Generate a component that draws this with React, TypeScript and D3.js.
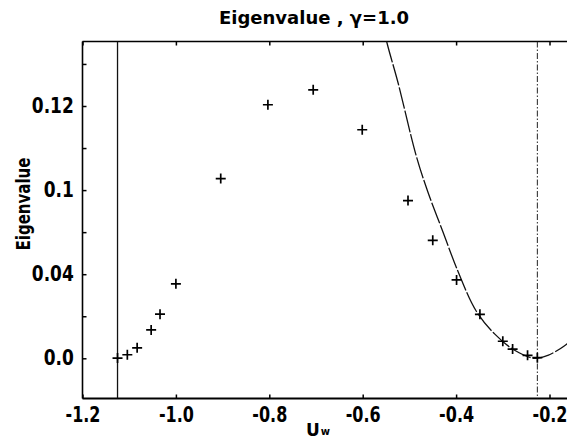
import React, { useEffect, useRef } from "react";
import * as d3 from "d3";

// computed eigenvalues (crosses)
const pointU = [-1.125, -1.104, -1.083, -1.053, -1.034, -1.0, -0.904, -0.803, -0.706, -0.601, -0.503, -0.45, -0.399, -0.349, -0.3, -0.279, -0.247, -0.226];
const pointV = [0.0001, 0.0017, 0.005, 0.0135, 0.021, 0.0354, 0.0855, 0.1206, 0.1277, 0.1087, 0.075, 0.0561, 0.0373, 0.0209, 0.0081, 0.0044, 0.0014, 0.0003];

// analytic curve (dashed)
const curveU = [-0.56, -0.5475, -0.5246, -0.4854, -0.4604, -0.4283, -0.3961, -0.357, -0.3176, -0.2747, -0.2319, -0.2034, -0.1677, -0.15];
const curveV = [0.162, 0.1496, 0.1313, 0.0963, 0.0791, 0.0602, 0.0414, 0.0225, 0.0116, 0.0038, 0.0, 0.0014, 0.006, 0.0095];

const xTicks = [-1.2, -1.0, -0.8, -0.6, -0.4, -0.2];
const xTickLabels = ["-1.2", "-1.0", "-0.8", "-0.6", "-0.4", "-0.2"];
const yTicks = [0, 0.04, 0.08, 0.12];
const yTickLabels = ["0.0", "0.04", "0.1", "0.12"];
const yMinor = [0.02, 0.06, 0.1, 0.14];

const leftLine = -1.125; // solid vertical
const minLine = -0.226; // dash-dot vertical

const FONT = "'DejaVu Sans', sans-serif";

const App = () => {
  const ref = useRef<SVGSVGElement>(null);

  useEffect(() => {
    const svg = d3.select(ref.current);
    svg.selectAll("*").remove();

    const left = 82.5;
    const top = 41.5;
    const bottom = 398.5;
    const right = 600;

    const x = d3.scaleLinear().domain([-1.2, -0.2]).range([left, 549.5]);
    const y = d3.scaleLinear().domain([0, 0.12]).range([358.3, 106]);

    svg.append("defs").append("clipPath").attr("id", "plot")
      .append("rect").attr("x", left).attr("y", top).attr("width", right - left).attr("height", bottom - top);

    // title
    svg.append("text")
      .attr("x", 314).attr("y", 23.5)
      .attr("text-anchor", "middle")
      .style("font-family", FONT).style("font-weight", "bold").style("font-size", "18px")
      .text("Eigenvalue , γ=1.0");

    // frame
    svg.append("line").attr("x1", left).attr("x2", right).attr("y1", top).attr("y2", top)
      .attr("stroke", "#000").attr("stroke-width", 1.6);
    svg.append("line").attr("x1", left).attr("x2", right).attr("y1", bottom).attr("y2", bottom)
      .attr("stroke", "#000").attr("stroke-width", 2);
    svg.append("line").attr("x1", left).attr("x2", left).attr("y1", top).attr("y2", bottom)
      .attr("stroke", "#000").attr("stroke-width", 1.6);

    // x axis
    const gx = svg.append("g").attr("transform", `translate(0,${bottom})`)
      .call(d3.axisBottom(x).tickValues(xTicks).tickSize(-4).tickPadding(9)
        .tickFormat((d, i) => xTickLabels[i]));
    gx.select(".domain").remove();
    gx.selectAll("line").attr("stroke-width", 1.5);
    gx.selectAll("text")
      .attr("transform", "scale(0.78,1)")
      .style("font-family", FONT).style("font-weight", "bold").style("font-size", "20.5px").attr("fill", "#000");

    const gxt = svg.append("g").attr("transform", `translate(0,${top})`)
      .call(d3.axisTop(x).tickValues(xTicks).tickSize(-4).tickFormat(() => ""));
    gxt.select(".domain").remove();
    gxt.selectAll("line").attr("stroke-width", 1.5);

    // y axis
    const gy = svg.append("g").attr("transform", `translate(${left},0)`)
      .call(d3.axisLeft(y).tickValues(yTicks).tickSize(-4).tickPadding(10.5)
        .tickFormat((d, i) => yTickLabels[i]));
    gy.select(".domain").remove();
    gy.selectAll("line").attr("stroke-width", 1.5);
    gy.selectAll("text")
      .attr("transform", "scale(0.83,1)")
      .style("font-family", FONT).style("font-weight", "bold").style("font-size", "20.5px").attr("fill", "#000");

    const gym = svg.append("g").attr("transform", `translate(${left},0)`)
      .call(d3.axisLeft(y).tickValues(yMinor).tickSize(-4).tickFormat(() => ""));
    gym.select(".domain").remove();
    gym.selectAll("line").attr("stroke-width", 1.5);

    // axis titles
    svg.append("text")
      .attr("transform", "translate(30,204) rotate(-90)")
      .attr("text-anchor", "middle")
      .attr("textLength", 93).attr("lengthAdjust", "spacingAndGlyphs")
      .style("font-family", FONT).style("font-weight", "bold").style("font-size", "19px")
      .text("Eigenvalue");

    const xl = svg.append("text").attr("x", 306).attr("y", 436)
      .style("font-family", FONT).style("font-weight", "bold");
    xl.append("tspan").style("font-size", "17px").text("U");
    xl.append("tspan").style("font-size", "10px").attr("dx", 1).attr("dy", -1).text("w");

    const plot = svg.append("g").attr("clip-path", "url(#plot)");

    // vertical lines
    plot.append("line")
      .attr("x1", x(leftLine)).attr("x2", x(leftLine)).attr("y1", top).attr("y2", bottom)
      .attr("stroke", "#111").attr("stroke-width", 1.3);
    plot.append("line")
      .attr("x1", x(minLine)).attr("x2", x(minLine)).attr("y1", top).attr("y2", bottom)
      .attr("stroke", "#222").attr("stroke-width", 1)
      .attr("stroke-dasharray", "6 2 1.5 2");

    // dashed curve
    const line = d3.line<number>()
      .x((d, i) => x(curveU[i]))
      .y((d) => y(d))
      .curve(d3.curveCatmullRom);
    plot.append("path")
      .attr("d", line(curveV))
      .attr("fill", "none")
      .attr("stroke", "#111")
      .attr("stroke-width", 1.3)
      .attr("stroke-dasharray", "22 2");

    // crosses
    const s = 5;
    const pts = plot.selectAll(".pt").data(pointV).enter().append("g")
      .attr("class", "pt")
      .attr("transform", (d, i) => `translate(${x(pointU[i])},${y(d)})`);
    pts.append("path")
      .attr("d", `M${-s},0H${s}M0,${-s}V${s}`)
      .attr("stroke", "#000").attr("stroke-width", 1.7);
  }, []);

  return (
    <div style={{ position: "fixed", left: 0, top: 0, background: "#fff" }}>
      <svg ref={ref} width={567} height={441} style={{ display: "block" }}></svg>
    </div>
  );
};

export default App;
